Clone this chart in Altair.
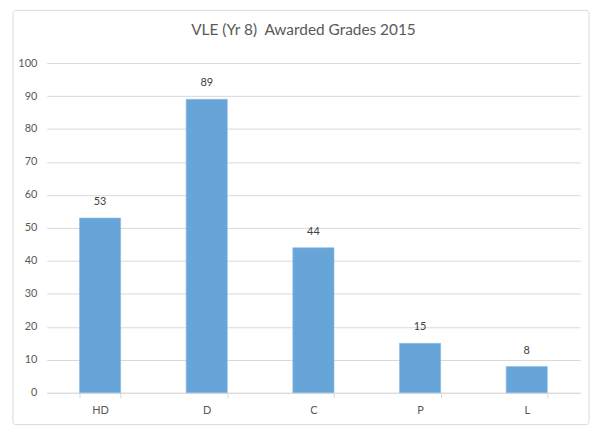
import altair as alt
import pandas as pd

grades = ["HD", "D", "C", "P", "L"]
counts = [53, 89, 44, 15, 8]
y_ticks = [0, 10, 20, 30, 40, 50, 60, 70, 80, 90, 100]
title_text = "VLE (Yr 8)\u00a0\u00a0Awarded Grades 2015"

df = pd.DataFrame({"grade": grades, "count": counts})

FONT = "Lato, sans-serif"
GRAY = "#595959"

x = alt.X("grade:N", sort=grades, title=None,
          scale=alt.Scale(paddingInner=0.614, paddingOuter=0.307),
          axis=alt.Axis(labelAngle=0, domainColor="#D9D9D9", tickColor="#D9D9D9",
                        tickSize=5, tickBand="extent", labelPadding=7,
                        labelColor=GRAY, labelFont=FONT, labelFontSize=11))
y = alt.Y("count:Q", title=None,
          scale=alt.Scale(domain=[0, 100], nice=False),
          axis=alt.Axis(values=y_ticks, grid=True, gridColor="#D9D9D9", domain=False,
                        ticks=False, labelPadding=10, labelColor=GRAY, labelFont=FONT,
                        labelFontSize=11))

base = alt.Chart(df)
bars = base.mark_bar(color="#67A5D9", stroke="#8CBCE4", strokeWidth=0.6).encode(x=x, y=y)
labels = base.mark_text(baseline="bottom", dy=-11, font=FONT, fontSize=11, color="#404040").encode(
    x=x, y=y, text="count:Q")

border = alt.Chart(pd.DataFrame({"a": [0]})).mark_rect(
    fill=None, stroke="#D9D9D9", strokeWidth=1, cornerRadius=3).encode(
    x=alt.value(-34), x2=alt.value(546), y=alt.value(-53), y2=alt.value(364))

chart = alt.layer(border, bars, labels).properties(
    width=537, height=332,
    title=alt.Title(title_text, font=FONT, fontSize=15.5, fontWeight="normal", color=GRAY,
                    anchor="middle", offset=-29, dx=-10),
    autosize=alt.AutoSizeParams(type="none"),
    padding={"left": 39, "top": 54, "right": 12, "bottom": 36},
).configure(background="white").configure_view(strokeWidth=0)

chart.save("out.html", embed_options={"renderer": "svg", "actions": False})
